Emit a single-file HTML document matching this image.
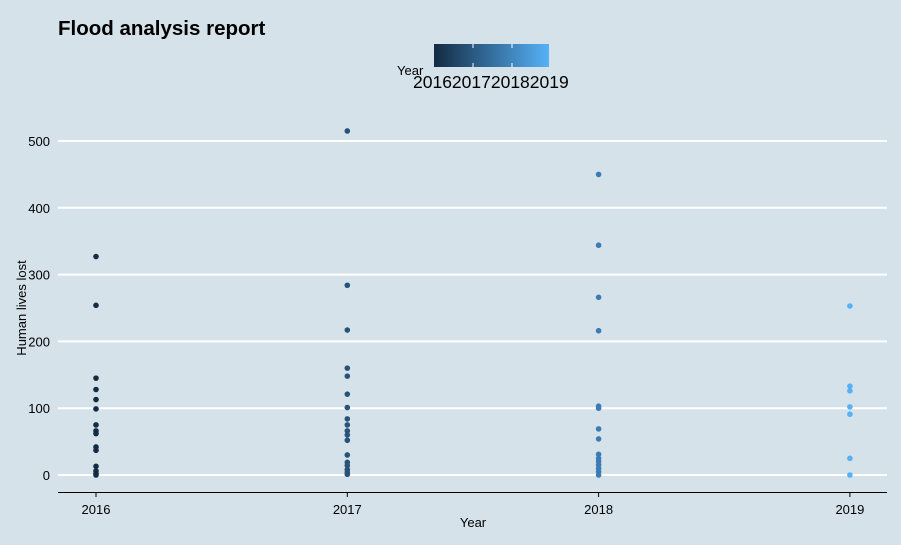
<!DOCTYPE html>
<html><head><meta charset="utf-8"><style>
body{margin:0;background:#d5e2ea;}
svg{display:block;font-family:"Liberation Sans",sans-serif;}
</style></head><body>
<svg id="chart" width="901" height="545">
<defs><linearGradient id="g" x1="0" x2="1"><stop offset="0" stop-color="#132B43"/><stop offset="1" stop-color="#56B1F7"/></linearGradient></defs>
<rect width="901" height="545" fill="#d5e2ea"/>
<text x="58" y="35" font-size="20.5" font-weight="bold" fill="#000">Flood analysis report</text>
<g>
<rect x="434" y="44" width="115" height="23" fill="url(#g)"/>
<g stroke="#fff" stroke-width="1">
<line x1="473" x2="473" y1="44" y2="48"/><line x1="473" x2="473" y1="63" y2="67"/>
<line x1="512" x2="512" y1="44" y2="48"/><line x1="512" x2="512" y1="63" y2="67"/>
</g>
<text x="397" y="75" font-size="13">Year</text>
<text x="413" y="88" font-size="17.5">2016201720182019</text>
</g>
<g id="grid"></g><g id="pts"></g><g id="axes"></g>
<text x="473" y="527" font-size="13" text-anchor="middle">Year</text>
<text transform="translate(26,308) rotate(-90)" font-size="13" text-anchor="middle">Human lives lost</text>
</svg>
<script>
const years=[2016,2017,2018,2019];
const colors=["#132B43","#28527a","#3b7cb4","#56B1F7"];
const v2016=[327,254,145,128,113,99,75,66,62,42,37,13,6,2,0];
const v2017=[515,284,217,160,148,121,101,84,75,66,60,52,30,19,14,8,4,1];
const v2018=[450,344,266,216,103,100,69,54,31,25,20,15,10,5,0];
const v2019=[253,133,126,102,91,25,0];
const yTicks=[0,100,200,300,400,500];
const series=[v2016,v2017,v2018,v2019];
const NS="http://www.w3.org/2000/svg";
const xS=i=>96+i*251.3;
const yS=v=>475-v*0.668;
const grid=document.getElementById('grid'),pts=document.getElementById('pts'),axes=document.getElementById('axes');
yTicks.forEach(t=>{
 const l=document.createElementNS(NS,'line');
 l.setAttribute('x1',58);l.setAttribute('x2',887);l.setAttribute('y1',yS(t));l.setAttribute('y2',yS(t));
 l.setAttribute('stroke','#fff');l.setAttribute('stroke-width',2);
 
 
 grid.appendChild(l);
 const tx=document.createElementNS(NS,'text');
 tx.setAttribute('x',50);tx.setAttribute('y',yS(t)+5);tx.setAttribute('font-size',13);tx.setAttribute('text-anchor','end');
 tx.textContent=t;
 
 
 axes.appendChild(tx);
});
const ax=document.createElementNS(NS,'line');
ax.setAttribute('x1',58);ax.setAttribute('x2',887);ax.setAttribute('y1',492.5);ax.setAttribute('y2',492.5);ax.setAttribute('stroke','#000');ax.setAttribute('stroke-width',1);


axes.appendChild(ax);
years.forEach((y,i)=>{
 const tk=document.createElementNS(NS,'line');
 tk.setAttribute('x1',xS(i));tk.setAttribute('x2',xS(i));tk.setAttribute('y1',492);tk.setAttribute('y2',497);tk.setAttribute('stroke','#000');
 
 
 axes.appendChild(tk);
 const tx=document.createElementNS(NS,'text');
 tx.setAttribute('x',xS(i));tx.setAttribute('y',514);tx.setAttribute('font-size',13);tx.setAttribute('text-anchor','middle');
 tx.textContent=y;
 
 
 axes.appendChild(tx);
 series[i].forEach(v=>{
  const c=document.createElementNS(NS,'circle');
  c.setAttribute('cx',xS(i));c.setAttribute('cy',yS(v));c.setAttribute('r',2.8);c.setAttribute('fill',colors[i]);
  
  
  pts.appendChild(c);
 });
});
</script>
</body></html>
